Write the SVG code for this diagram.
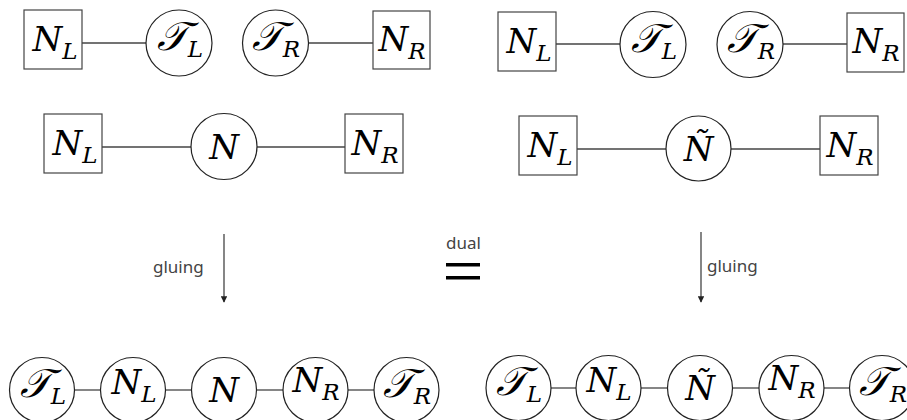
<svg xmlns="http://www.w3.org/2000/svg" width="907" height="420" viewBox="0 0 907 420">
<style>
.box{fill:#fff;stroke:#444;stroke-width:1.2}
.cir{fill:#fff;stroke:#222;stroke-width:1.2}
.ln{stroke:#444;stroke-width:1.3;fill:none}
.m{font-family:"DejaVu Serif",serif;font-style:italic;font-size:34px;fill:#000;text-anchor:middle}
.t{font-size:40px}
.s{font-size:23px}
.lab{font-family:"Noto Sans","DejaVu Sans",sans-serif;font-size:17px;fill:#444}
</style>
<defs>
<marker id="ah" viewBox="0 0 10 10" refX="9" refY="5" markerWidth="5" markerHeight="5" orient="auto"><path d="M0,0 L10,5 L0,10 z" fill="#222"/></marker>
</defs>
<g id="connectors">
<line class="ln" x1="82" y1="43" x2="146" y2="43"/>
<line class="ln" x1="308" y1="43" x2="373" y2="43"/>
<line class="ln" x1="556" y1="44" x2="620" y2="44"/>
<line class="ln" x1="783" y1="44" x2="847" y2="44"/>
<line class="ln" x1="102" y1="147" x2="191" y2="147"/>
<line class="ln" x1="257" y1="147" x2="345" y2="147"/>
<line class="ln" x1="577" y1="149" x2="666" y2="149"/>
<line class="ln" x1="731" y1="149" x2="820" y2="149"/>
<line class="ln" x1="74" y1="390" x2="100" y2="390"/>
<line class="ln" x1="166" y1="390" x2="191" y2="390"/>
<line class="ln" x1="257" y1="390" x2="283" y2="390"/>
<line class="ln" x1="348" y1="390" x2="374" y2="390"/>
<line class="ln" x1="551" y1="388" x2="576" y2="388"/>
<line class="ln" x1="641" y1="388" x2="668" y2="388"/>
<line class="ln" x1="733" y1="388" x2="759" y2="388"/>
<line class="ln" x1="824" y1="388" x2="850" y2="388"/>
<line class="ln" x1="224" y1="234" x2="224" y2="302" marker-end="url(#ah)"/>
<line class="ln" x1="701" y1="232" x2="701" y2="302" marker-end="url(#ah)"/>
</g>
<g id="r1l-NL"><rect class="box" x="24" y="10" width="58" height="59"/><text class="m" x="55" y="51">N<tspan class="s" dy="8">L</tspan></text></g>
<g id="r1l-TL"><circle class="cir" cx="179" cy="43" r="33"/><text class="m" x="180" y="50"><tspan class="t">𝒯</tspan><tspan class="s" dy="7">L</tspan></text></g>
<g id="r1l-TR"><circle class="cir" cx="275.5" cy="43" r="33"/><text class="m" x="276" y="50"><tspan class="t">𝒯</tspan><tspan class="s" dy="7">R</tspan></text></g>
<g id="r1l-NR"><rect class="box" x="373" y="11" width="57" height="58"/><text class="m" x="402" y="51">N<tspan class="s" dy="8">R</tspan></text></g>

<g id="r1r-NL"><rect class="box" x="498" y="12" width="58" height="59"/><text class="m" x="529" y="53">N<tspan class="s" dy="8">L</tspan></text></g>
<g id="r1r-TL"><circle class="cir" cx="653" cy="44.5" r="33"/><text class="m" x="654" y="52"><tspan class="t">𝒯</tspan><tspan class="s" dy="7">L</tspan></text></g>
<g id="r1r-TR"><circle class="cir" cx="750" cy="44.5" r="33"/><text class="m" x="751" y="52"><tspan class="t">𝒯</tspan><tspan class="s" dy="7">R</tspan></text></g>
<g id="r1r-NR"><rect class="box" x="847" y="13" width="57" height="59"/><text class="m" x="876" y="53">N<tspan class="s" dy="8">R</tspan></text></g>

<g id="r2l-NL"><rect class="box" x="44" y="114" width="58" height="59"/><text class="m" x="75" y="155">N<tspan class="s" dy="8">L</tspan></text></g>
<g id="r2l-N"><circle class="cir" cx="224" cy="146.5" r="33"/><text class="m" x="224" y="159">N</text></g>
<g id="r2l-NR"><rect class="box" x="345" y="114" width="58" height="59"/><text class="m" x="375" y="155">N<tspan class="s" dy="8">R</tspan></text></g>

<g id="r2r-NL"><rect class="box" x="519" y="116" width="58" height="59"/><text class="m" x="550" y="157">N<tspan class="s" dy="8">L</tspan></text></g>
<g id="r2r-Nt"><circle class="cir" cx="698.5" cy="148.5" r="32.5"/><text class="m" x="698.5" y="161">Ñ</text></g>
<g id="r2r-NR"><rect class="box" x="820" y="116" width="58" height="59"/><text class="m" x="850" y="157">N<tspan class="s" dy="8">R</tspan></text></g>

<g id="r3l-TL"><circle class="cir" cx="42" cy="390" r="32.5"/><text class="m" x="43" y="397"><tspan class="t">𝒯</tspan><tspan class="s" dy="7">L</tspan></text></g>
<g id="r3l-NL"><circle class="cir" cx="133" cy="390" r="32.5"/><text class="m" x="134" y="394">N<tspan class="s" dy="8">L</tspan></text></g>
<g id="r3l-N"><circle class="cir" cx="224" cy="390" r="32.5"/><text class="m" x="224" y="402">N</text></g>
<g id="r3l-NR"><circle class="cir" cx="315.5" cy="390" r="32.5"/><text class="m" x="316" y="392">N<tspan class="s" dy="8">R</tspan></text></g>
<g id="r3l-TR"><circle class="cir" cx="406.5" cy="390" r="32.5"/><text class="m" x="407" y="397"><tspan class="t">𝒯</tspan><tspan class="s" dy="7">R</tspan></text></g>

<g id="r3r-TL"><circle class="cir" cx="518.5" cy="388" r="32.5"/><text class="m" x="519" y="395"><tspan class="t">𝒯</tspan><tspan class="s" dy="7">L</tspan></text></g>
<g id="r3r-NL"><circle class="cir" cx="608.5" cy="388" r="32.5"/><text class="m" x="609" y="392">N<tspan class="s" dy="8">L</tspan></text></g>
<g id="r3r-Nt"><circle class="cir" cx="700" cy="388" r="32.5"/><text class="m" x="700" y="400">Ñ</text></g>
<g id="r3r-NR"><circle class="cir" cx="791.5" cy="388" r="32.5"/><text class="m" x="792" y="390">N<tspan class="s" dy="8">R</tspan></text></g>
<g id="r3r-TR"><circle class="cir" cx="882" cy="388" r="32.5"/><text class="m" x="883" y="395"><tspan class="t">𝒯</tspan><tspan class="s" dy="7">R</tspan></text></g>

<g id="labels">
<text class="lab" x="153" y="273">gluing</text>
<text class="lab" x="707" y="272">gluing</text>
<text class="lab" x="446" y="249">dual</text>
<rect x="446" y="263" width="34" height="3.5" fill="#000"/>
<rect x="446" y="276" width="34" height="3.5" fill="#000"/>
</g>
</svg>
